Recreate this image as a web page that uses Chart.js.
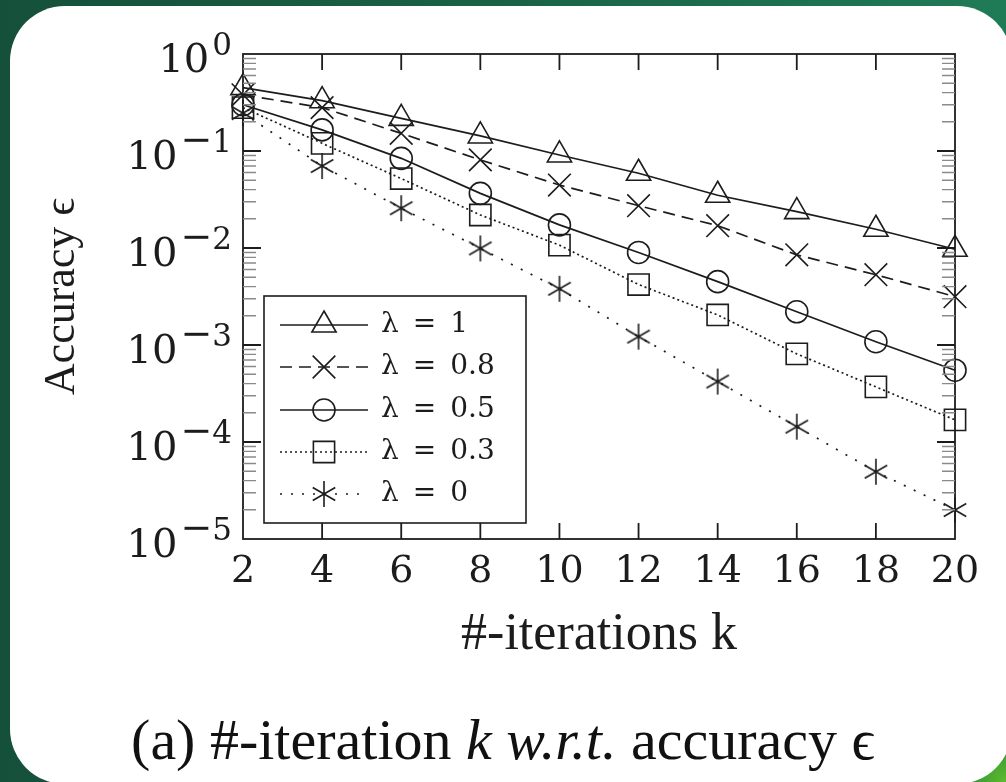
<!DOCTYPE html>
<html>
<head>
<meta charset="utf-8">
<script src="https://cdn.jsdelivr.net/npm/chart.js@4/dist/chart.umd.min.js"></script>
<style>
  html, body {
    margin: 0;
    width: 1006px;
    height: 782px;
    overflow: hidden;
  }
  body {
    position: relative;
    background:
      radial-gradient(circle at 100% 100%, #5fbb2c 0px, #3c9c35 30px, rgba(40,130,70,0) 90px),
      linear-gradient(90deg, #15503a 0%, #1a6246 50%, #1f7b56 100%);
  }
  #card {
    position: absolute;
    left: 10px;
    top: 6px;
    width: 1002px;
    height: 778px;
    background: #fff;
    border-radius: 55px;
  }
  #wrap {
    position: absolute;
    left: 0;
    top: 0;
    width: 1006px;
    height: 690px;
  }
  #caption {
    position: absolute;
    left: 0;
    width: 1006px;
    top: 711px;
    text-align: center;
    font-family: "Liberation Serif", serif;
    font-size: 58px;
    line-height: 58px;
    color: #111;
    white-space: nowrap;
  }
</style>
</head>
<body>
<div id="card"></div>
<div id="wrap"><canvas id="myChart" width="1006" height="690"></canvas></div>
<div id="caption">(a) #-iteration <i>k</i> <i>w.r.t.</i> accuracy ϵ</div>
<script>
console.log('Initializing javascript...')

// iterations k on the x axis
const iterations = [2, 4, 6, 8, 10, 12, 14, 16, 18, 20]

// accuracy reached for each lambda
const lambda1 = [0.45, 0.33, 0.217, 0.143, 0.091, 0.059, 0.035, 0.0237, 0.0156, 0.0097]
const lambda08 = [0.38, 0.28, 0.152, 0.081, 0.0446, 0.0273, 0.017, 0.0085, 0.0053, 0.00315]
const lambda05 = [0.30, 0.165, 0.084, 0.0366, 0.0173, 0.009, 0.0045, 0.0022, 0.00108, 0.00055]
const lambda03 = [0.28, 0.12, 0.052, 0.0219, 0.0107, 0.0042, 0.00204, 0.00081, 0.00037, 0.000169]
const lambda0 = [0.246, 0.070, 0.0257, 0.0099, 0.0038, 0.00122, 0.00042, 0.000144, 0.0000494, 0.0000199]

const seriesLabels = ['λ = 1', 'λ = 0.8', 'λ = 0.5', 'λ = 0.3', 'λ = 0']

// decade ticks on the y axis, labelled 10 with an exponent
const yTickValues = [1e-5, 1e-4, 1e-3, 1e-2, 1e-1, 1]
const yTickExponents = [-5, -4, -3, -2, -1, 0]

const ink = '#1c1c1c'
const tickFont = '"DejaVu Serif", serif'
const textFont = '"Liberation Serif", serif'

// asterisk marker (three strokes, one of them vertical)
function makeAsterisk(size) {
  const c = document.createElement('canvas')
  c.width = size
  c.height = size
  const g = c.getContext('2d')
  const r = size / 2 - 1
  g.strokeStyle = ink
  g.lineWidth = 1.6
  g.beginPath()
  ;[90, 30, 150].forEach(deg => {
    const a = deg * Math.PI / 180
    g.moveTo(size / 2 - Math.cos(a) * r, size / 2 - Math.sin(a) * r)
    g.lineTo(size / 2 + Math.cos(a) * r, size / 2 + Math.sin(a) * r)
  })
  g.stroke()
  return c
}

function series(label, values, style, radius, dash) {
  return {
    label: label,
    data: values.map((v, i) => ({ x: iterations[i], y: v })),
    borderColor: ink,
    borderWidth: 1.7,
    borderDash: dash,
    pointStyle: style,
    pointRadius: radius,
    pointHoverRadius: radius,
    pointBorderColor: ink,
    pointBorderWidth: 1.6,
    pointBackgroundColor: 'rgba(0,0,0,0)',
    tension: 0,
    clip: false
  }
}

// frame, inside ticks and minor log ticks
const frameTicks = {
  id: 'frameTicks',
  afterDatasetsDraw(chart) {
    const { ctx, chartArea: a, scales } = chart
    ctx.save()
    ctx.strokeStyle = ink
    ctx.lineWidth = 1.8
    ctx.strokeRect(a.left, a.top, a.right - a.left, a.bottom - a.top)

    ctx.beginPath()
    iterations.slice(1, -1).forEach(k => {
      const x = scales.x.getPixelForValue(k)
      ctx.moveTo(x, a.bottom); ctx.lineTo(x, a.bottom - 16)
      ctx.moveTo(x, a.top); ctx.lineTo(x, a.top + 16)
    })
    yTickValues.slice(1, -1).forEach(v => {
      const y = scales.y.getPixelForValue(v)
      ctx.moveTo(a.left, y); ctx.lineTo(a.left + 18, y)
      ctx.moveTo(a.right, y); ctx.lineTo(a.right - 18, y)
    })
    ctx.stroke()

    ctx.strokeStyle = '#8a8a8a'
    ctx.lineWidth = 1.4
    ctx.beginPath()
    yTickValues.slice(0, -1).forEach(base => {
      for (let m = 2; m <= 9; m++) {
        const y = scales.y.getPixelForValue(base * m)
        ctx.moveTo(a.left, y); ctx.lineTo(a.left + 13, y)
        ctx.moveTo(a.right, y); ctx.lineTo(a.right - 13, y)
      }
    })
    ctx.stroke()
    ctx.restore()
  }
}

// y tick labels as 10 with a raised exponent
const powerLabels = {
  id: 'powerLabels',
  afterDraw(chart) {
    const { ctx, chartArea: a, scales } = chart
    ctx.save()
    ctx.fillStyle = ink
    ctx.textAlign = 'right'
    ctx.textBaseline = 'alphabetic'
    yTickValues.forEach((v, i) => {
      const y = scales.y.getPixelForValue(v)
      const e = yTickExponents[i]
      let x = a.left - 11
      ctx.font = '31px ' + tickFont
      ctx.fillText(String(Math.abs(e)), x, y + 1)
      x -= ctx.measureText(String(Math.abs(e))).width
      if (e < 0) {
        ctx.font = '38px ' + tickFont
        ctx.fillText('−', x, y + 1)
        x -= ctx.measureText('−').width
      }
      ctx.font = '40px ' + tickFont
      ctx.fillText('10', x - 3, y + 18)
    })
    ctx.restore()
  }
}

// boxed legend with line sample and marker
const boxLegend = {
  id: 'boxLegend',
  afterDraw(chart) {
    const { ctx } = chart
    const box = { left: 264, top: 296, right: 526, bottom: 523 }
    const rows = [325, 367, 410, 452, 494]
    ctx.save()
    ctx.fillStyle = '#fff'
    ctx.fillRect(box.left, box.top, box.right - box.left, box.bottom - box.top)
    ctx.strokeStyle = ink
    ctx.lineWidth = 1.6
    ctx.strokeRect(box.left, box.top, box.right - box.left, box.bottom - box.top)

    chart.data.datasets.forEach((ds, i) => {
      const y = rows[i]
      ctx.save()
      ctx.strokeStyle = ink
      ctx.lineWidth = ds.borderWidth
      ctx.setLineDash(ds.borderDash || [])
      ctx.beginPath()
      ctx.moveTo(280, y)
      ctx.lineTo(368, y)
      ctx.stroke()
      ctx.restore()

      ctx.save()
      ctx.strokeStyle = ink
      ctx.fillStyle = 'rgba(0,0,0,0)'
      ctx.lineWidth = ds.pointBorderWidth
      Chart.helpers.drawPoint(ctx, {
        pointStyle: ds.pointStyle,
        radius: ds.pointRadius,
        rotation: 0,
        borderWidth: ds.pointBorderWidth
      }, 324, y)
      ctx.restore()

      ctx.fillStyle = ink
      ctx.font = '28px ' + tickFont
      ctx.textBaseline = 'middle'
      ctx.textAlign = 'left'
      ctx.fillText(ds.label.replace(/ = /, '\u2002=\u2002'), 381, y)
    })
    ctx.restore()
  }
}

$ready()

function $ready() {
  renderChart()
}

function renderChart() {
  const ctx = document.getElementById('myChart')

  new Chart(ctx, {
    type: 'line',
    data: {
      datasets: [
        series(seriesLabels[0], lambda1, 'triangle', 14, []),
        series(seriesLabels[1], lambda08, 'crossRot', 16, [12, 7]),
        series(seriesLabels[2], lambda05, 'circle', 11, []),
        series(seriesLabels[3], lambda03, 'rect', 15, [2, 3]),
        series(seriesLabels[4], lambda0, makeAsterisk(28), 13, [2, 9])
      ]
    },
    options: {
      responsive: false,
      animation: false,
      events: [],
      layout: {
        padding: { top: 54, right: 51, left: 0, bottom: 0 }
      },
      plugins: {
        legend: { display: false },
        tooltip: { enabled: false }
      },
      scales: {
        x: {
          type: 'linear',
          min: 2,
          max: 20,
          afterBuildTicks: scale => {
            scale.ticks = iterations.map(v => ({ value: v }))
          },
          afterFit: scale => { scale.height = 151 },
          grid: { display: false, drawTicks: false },
          border: { display: false },
          ticks: {
            color: ink,
            padding: 10,
            maxRotation: 0,
            autoSkip: false,
            font: { family: tickFont, size: 38 }
          },
          title: {
            display: true,
            text: '#-iterations k',
            color: ink,
            font: { family: textFont, size: 52, lineHeight: 1.2 },
            padding: { top: 0, bottom: 23 }
          }
        },
        y: {
          type: 'logarithmic',
          min: 1e-5,
          max: 1,
          afterBuildTicks: scale => {
            scale.ticks = yTickValues.map(v => ({ value: v }))
          },
          afterFit: scale => { scale.width = 243 },
          grid: { display: false, drawTicks: false },
          border: { display: false },
          ticks: { display: false },
          title: {
            display: true,
            text: 'Accuracy ϵ',
            color: ink,
            font: { family: textFont, size: 44, lineHeight: 1 },
            padding: { top: 40, bottom: 0 }
          }
        }
      }
    },
    plugins: [frameTicks, powerLabels, boxLegend]
  })
}
</script>
</body>
</html>
